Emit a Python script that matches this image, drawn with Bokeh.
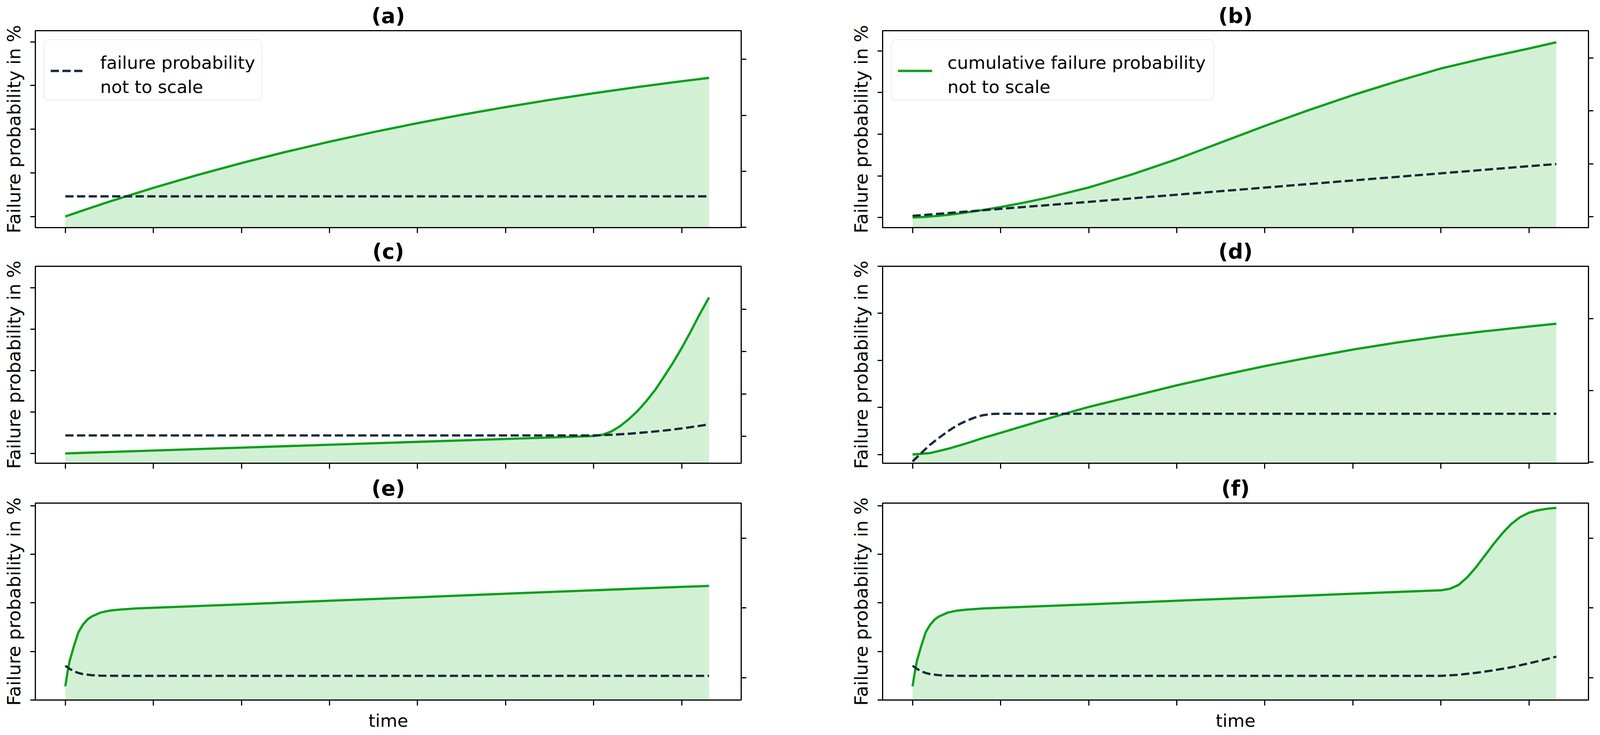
from bokeh.plotting import figure
from bokeh.models import Range1d, LinearAxis, FixedTicker, BoxAnnotation, Label, Arrow
from bokeh.layouts import column, row
from bokeh.embed import file_html
from bokeh.resources import INLINE

# ---------------- data (arbitrary "tick" units) -------------
TIME_TICKS = [0, 1, 2, 3, 4, 5, 6, 7]

a_t = [0, 0.25, 0.5, 1, 1.5, 2, 2.5, 3, 3.5, 4, 4.5, 5, 5.5, 6, 6.5, 7, 7.31]
a_cum = [0, 0.173, 0.340, 0.656, 0.950, 1.223, 1.478, 1.714, 1.934, 2.139, 2.329,
         2.506, 2.671, 2.824, 2.966, 3.099, 3.176]
a_pdf_t = [0, 7.31]
a_pdf = [0.554, 0.554]

b_t = [0, 0.1, 0.2, 0.3, 0.4, 0.5, 0.6, 0.8, 1.0, 1.25, 1.5, 2.0, 2.5, 3.0, 3.5,
       4.0, 4.5, 5.0, 5.5, 6.0, 6.5, 7.0, 7.31]
b_cum = [0, 0.008, 0.022, 0.041, 0.063, 0.088, 0.116, 0.179, 0.25, 0.35, 0.46, 0.72,
         1.04, 1.40, 1.80, 2.20, 2.58, 2.94, 3.27, 3.58, 3.83, 4.06, 4.21]
b_pdf_t = [0, 1, 2, 3, 4, 5, 6, 7, 7.31]
b_pdf = [0.015, 0.148, 0.28, 0.415, 0.55, 0.685, 0.82, 0.955, 0.995]

c_t = [0, 2, 4, 6.0, 6.1, 6.2, 6.3, 6.4, 6.5, 6.6, 6.7, 6.8, 6.9, 7.0, 7.1, 7.2, 7.31]
c_cum = [0.0, 0.14, 0.28, 0.42, 0.45, 0.53, 0.66, 0.83, 1.03, 1.27, 1.54, 1.86, 2.19,
         2.55, 2.94, 3.35, 3.77]
c_pdf_t = [0, 6.0, 6.2, 6.4, 6.6, 6.8, 7.0, 7.15, 7.31]
c_pdf = [0.02, 0.02, 0.035, 0.06, 0.095, 0.135, 0.185, 0.23, 0.28]

d_t = [0, 0.2, 0.4, 0.6, 0.8, 1.0, 1.25, 1.5, 1.75, 2.0, 2.5, 3.0, 3.5, 4.0, 4.5,
       5.0, 5.5, 6.0, 6.5, 7.0, 7.31]
d_cum = [0.0, 0.03, 0.12, 0.23, 0.35, 0.46, 0.60, 0.74, 0.88, 1.01, 1.24, 1.47, 1.68,
         1.88, 2.06, 2.23, 2.38, 2.51, 2.62, 2.72, 2.78]
d_pdf_t = [0, 0.1, 0.2, 0.3, 0.4, 0.5, 0.6, 0.7, 0.8, 0.9, 1.0, 7.31]
d_pdf = [0.01, 0.13, 0.245, 0.34, 0.43, 0.51, 0.57, 0.62, 0.655, 0.672, 0.675, 0.675]

e_t = [0, 0.025, 0.05, 0.1, 0.15, 0.2, 0.25, 0.3, 0.4, 0.5, 0.6, 0.8, 1.0, 2, 3, 4,
       5, 6, 7, 7.31]
e_cum = [0.28, 0.57, 0.81, 1.12, 1.40, 1.55, 1.655, 1.72, 1.80, 1.84, 1.86, 1.885,
         1.90, 1.97, 2.045, 2.115, 2.19, 2.26, 2.33, 2.35]
e_pdf_t = [0, 0.05, 0.1, 0.15, 0.2, 0.3, 0.4, 0.6, 7.31]
e_pdf = [0.17, 0.125, 0.09, 0.066, 0.05, 0.035, 0.028, 0.025, 0.025]

f_t = [0, 0.025, 0.05, 0.1, 0.15, 0.2, 0.25, 0.3, 0.4, 0.5, 0.6, 0.8, 1.0, 2, 3, 4,
       5, 6.0, 6.1, 6.2, 6.3, 6.4, 6.5, 6.6, 6.7, 6.8, 6.9, 7.0, 7.1, 7.2, 7.31]
f_cum = [0.28, 0.57, 0.81, 1.12, 1.40, 1.55, 1.655, 1.72, 1.80, 1.84, 1.86, 1.885,
         1.90, 1.97, 2.045, 2.115, 2.19, 2.26, 2.29, 2.37, 2.53, 2.74, 2.98, 3.22,
         3.44, 3.63, 3.77, 3.86, 3.91, 3.94, 3.96]
f_pdf_t = [0, 0.05, 0.1, 0.15, 0.2, 0.3, 0.4, 0.6, 6.0, 6.2, 6.4, 6.6, 6.8, 7.0,
           7.15, 7.31]
f_pdf = [0.17, 0.125, 0.09, 0.066, 0.05, 0.035, 0.028, 0.025, 0.025, 0.04, 0.068,
         0.105, 0.148, 0.205, 0.25, 0.30]

TITLES = ["(a)", "(b)", "(c)", "(d)", "(e)", "(f)"]
Y_LABEL = "Failure probability in %"
X_LABEL = "time"
LEGEND_A = ["failure probability", "not to scale"]
LEGEND_B = ["cumulative failure probability", "not to scale"]

# ---------------- styling / layout ----------------
KX = 1.066   # horizontal device px per CSS px
KY = 1.0     # vertical device px per CSS px


def DX(v):
    return v / KX


def DY(v):
    return v / KY


def fs(v):
    return "%.1fpx" % v


FONT = "DejaVu Sans"
GREEN = "#0a9f1c"
FILL = "#d2f1d4"
NAVY = "#16283a"
DASH = "21 9"
LW = 5.8
X_RANGE = (-0.34, 7.675)

FRAME_W = round(DX(1926))
FRAME_H = round(DY(504))
FRAME_TOPS = [round(DY(t)) for t in (83, 686, 1292)]
GAP_BELOW = round(DY(20))

PANELS = [
    dict(t=a_t, cum=a_cum, pt=a_pdf_t, pdf=a_pdf, left=(-0.255, 4.257), lt=[0, 1, 2, 3, 4],
         right=(-0.0035, 3.509), rt=[0, 1, 2, 3]),
    dict(t=b_t, cum=b_cum, pt=b_pdf_t, pdf=b_pdf, left=(-0.244, 4.488), lt=[0, 1, 2, 3, 4],
         right=(-0.207, 3.518), rt=[0, 1, 2, 3]),
    dict(t=c_t, cum=c_cum, pt=c_pdf_t, pdf=c_pdf, left=(-0.237, 4.522), lt=[0, 1, 2, 3, 4],
         right=(-0.637, 4.017), rt=[0, 1, 2, 3]),
    dict(t=d_t, cum=d_cum, pt=d_pdf_t, pdf=d_pdf, left=(-0.186, 4.001), lt=[0, 1, 2, 3, 4],
         right=(-0.0136, 2.727), rt=[0, 1, 2]),
    dict(t=e_t, cum=e_cum, pt=e_pdf_t, pdf=e_pdf, left=(-0.003, 4.058), lt=[0, 1, 2, 3, 4],
         right=(-0.3216, 2.502), rt=[0, 1, 2]),
    dict(t=f_t, cum=f_cum, pt=f_pdf_t, pdf=f_pdf, left=(-0.003, 4.058), lt=[0, 1, 2, 3, 4],
         right=(-0.3216, 2.502), rt=[0, 1, 2]),
]

# horizontal borders (CSS px)
L1 = round(DX(105)) - 8
L2 = 178
R1 = round(DX(2417)) - (8 + L1 + FRAME_W) - L2
R2 = 12
BORDERS_X = [(L1, R1), (L2, R2)]

# vertical borders (CSS px)
BORDERS_Y = []
start = 8
for r in range(3):
    top = FRAME_TOPS[r] - start
    if r < 2:
        bottom = GAP_BELOW
    else:
        bottom = round(DY(70))
    BORDERS_Y.append((top, bottom))
    start = FRAME_TOPS[r] + FRAME_H + bottom


def style_axis(ax, horizontal):
    ax.major_label_text_font_size = "1px"
    ax.major_label_text_color = None
    ax.major_label_standoff = 0
    ax.major_tick_out = round(DY(14)) if horizontal else round(DX(14))
    ax.major_tick_in = 0
    ax.major_tick_line_width = DX(3.1) if horizontal else DY(3.1)
    ax.major_tick_line_color = "black"
    ax.minor_tick_line_color = None
    ax.axis_line_width = DY(3.1) if horizontal else DX(3.1)
    ax.axis_line_color = "black"
    ax.axis_label_text_font = FONT
    ax.axis_label_text_font_style = "normal"
    ax.axis_label_text_color = "black"


def add_legend(p, lines, box_w, solid):
    xr0, xr1 = p.x_range.start, p.x_range.end
    yr0, yr1 = p.y_range.start, p.y_range.end

    def fx(d):
        return xr0 + DX(d) / FRAME_W * (xr1 - xr0)

    def fy(d):
        return yr1 - DY(d) / FRAME_H * (yr1 - yr0)

    p.add_layout(BoxAnnotation(left=fx(24), right=fx(24 + box_w), top=fy(23), bottom=fy(178),
                               fill_color="white", fill_alpha=0.8, line_color="#d6d6d6",
                               line_width=3.4, border_radius=11))
    if solid:
        p.add_layout(Arrow(x_start=fx(42), y_start=fy(103), x_end=fx(135), y_end=fy(103),
                           start=None, end=None, line_color=GREEN, line_width=LW))
    else:
        p.add_layout(Arrow(x_start=fx(42), y_start=fy(103), x_end=fx(135), y_end=fy(103),
                           start=None, end=None, line_color=NAVY, line_width=LW,
                           line_dash=DASH))
    for i, txt in enumerate(lines):
        p.add_layout(Label(x=fx(177), y=fy(82 + 62 * i), text=txt, text_font=FONT,
                           text_font_size=fs(45), text_baseline="alphabetic",
                           text_align="left", text_color="black"))


figs = []
for idx, cfg in enumerate(PANELS):
    r, c = divmod(idx, 2)
    bl, br = BORDERS_X[c]
    bt, bb = BORDERS_Y[r]
    p = figure(frame_width=FRAME_W, frame_height=FRAME_H,
               x_range=Range1d(*X_RANGE), y_range=Range1d(*cfg["left"]),
               output_backend="svg", toolbar_location=None,
               min_border_left=bl, min_border_right=br,
               min_border_top=bt, min_border_bottom=bb,
               title=TITLES[idx])
    p.extra_y_ranges = {"r": Range1d(*cfg["right"])}
    p.add_layout(LinearAxis(y_range_name="r", ticker=FixedTicker(ticks=cfg["rt"])), "right")

    p.xaxis.ticker = FixedTicker(ticks=TIME_TICKS)
    p.yaxis[0].ticker = FixedTicker(ticks=cfg["lt"])
    for ax in p.xaxis:
        style_axis(ax, True)
    for ax in p.yaxis:
        style_axis(ax, False)
    p.yaxis[0].axis_label = Y_LABEL
    p.yaxis[0].axis_label_text_font_size = fs(DY(46.6))
    p.yaxis[0].axis_label_standoff = round(DX(16))
    if r == 2:
        p.xaxis.axis_label = X_LABEL
        p.xaxis.axis_label_text_font_size = fs(45)
        p.xaxis.axis_label_standoff = round(DY(12))

    p.xgrid.grid_line_color = None
    p.ygrid.grid_line_color = None
    p.outline_line_color = "black"
    p.outline_line_width = 3.0
    p.outline_line_alpha = 1
    p.background_fill_color = "white"
    p.border_fill_color = "white"

    p.title.align = "center"
    p.title.text_font = FONT
    p.title.text_font_size = fs(54)
    p.title.text_font_style = "bold"
    p.title.text_color = "black"
    p.title.standoff = round(DY(13))

    p.varea(x=cfg["t"], y1=-10, y2=cfg["cum"], fill_color=FILL, fill_alpha=1)
    p.line(cfg["t"], cfg["cum"], line_color=GREEN, line_width=LW)
    p.line(cfg["pt"], cfg["pdf"], line_color=NAVY, line_width=LW, line_dash=DASH,
           y_range_name="r")

    if idx == 0:
        add_legend(p, LEGEND_A, 594, solid=False)
    elif idx == 1:
        add_legend(p, LEGEND_B, 879, solid=True)
    figs.append(p)

layout = column(row(figs[0], figs[1]), row(figs[2], figs[3]), row(figs[4], figs[5]))
open("out.html", "w").write(file_html(layout, INLINE))
